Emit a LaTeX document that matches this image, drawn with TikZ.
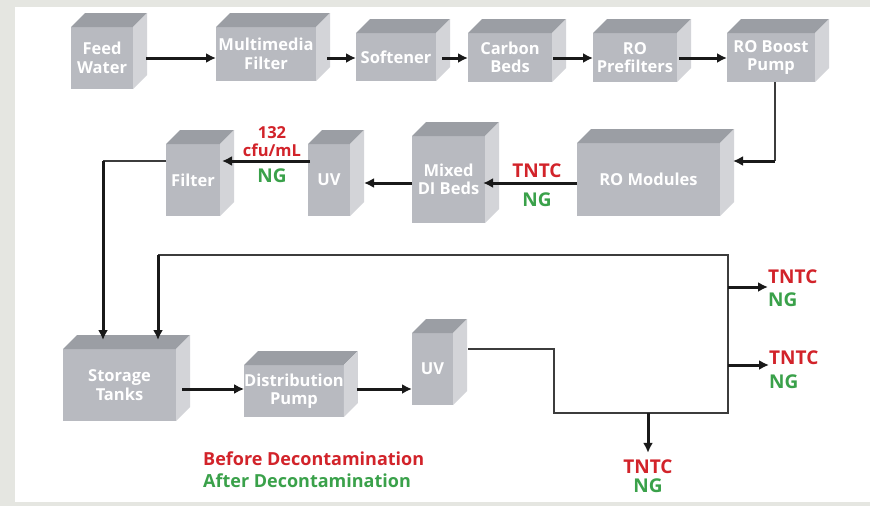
\documentclass[tikz,border=0pt]{standalone}
\usepackage{fontspec}
\setmainfont{Open Sans}
\usepackage{tikz}
\usetikzlibrary{arrows.meta}
\tikzset{>={Latex[width=10pt,length=10pt]}}
\definecolor{frontgray}{HTML}{B8BAC0}
\definecolor{topgray}{HTML}{9B9EA4}
\definecolor{sidegray}{HTML}{D3D4D8}
\definecolor{framegray}{HTML}{E5E6E1}
\definecolor{tntcred}{HTML}{D2232A}
\definecolor{nggreen}{HTML}{3AA14A}
\definecolor{linegray}{HTML}{3C3C3C}
\newcommand{\boxfont}{\fontsize{16.5}{18.5}\selectfont\bfseries}
\newcommand{\labelfont}{\fontsize{19}{20}\selectfont\bfseries}
\newcommand{\legendfont}{\fontsize{18}{20}\selectfont\bfseries}
\newcommand{\cfufont}{\fontsize{16.5}{18}\selectfont\bfseries}

\begin{document}
\begin{tikzpicture}[x=1pt, y=-1pt, box/.style 2 args={fill=frontgray, minimum width=#1, minimum height=#2, inner sep=0pt, outer sep=0pt, text=white, font=\boxfont, align=center}, topface/.style={fill=topgray}, sideface/.style={fill=sidegray}, pipe/.style={draw=linegray, line width=1.3pt}, flow/.style={->, draw=black!90, line width=3pt}, before/.style={text=tntcred, font=\labelfont, inner sep=0pt}, after/.style={text=nggreen, font=\labelfont, inner sep=0pt}]

    %Frame
    \useasboundingbox (0,0) rectangle (870,506);
    \fill[framegray] (0,0) rectangle (870,506);
    \fill[white] (15,7) rectangle (870,502);

    %Nodes
    \node[box={62pt}{62pt}](feed_water) at (102,58){Feed\\Water};
    \node[box={100pt}{54pt}](multimedia_filter) at (266,54){Multimedia\\Filter};
    \node[box={80pt}{48pt}](softener) at (396,57){Softener};
    \node[box={84pt}{49pt}](carbon_beds) at (510,57.5){Carbon\\Beds};
    \node[box={84pt}{49pt}](ro_prefilters) at (635,57.5){RO\\Prefilters};
    \node[box={88pt}{49pt}](ro_boost_pump) at (771,57.5){RO Boost\\Pump};
    \node[box={143pt}{73pt}](ro_modules) at (648.5,179.5){RO Modules};
    \node[box={73pt}{87pt}](mixed_di_beds) at (448.5,179.5){Mixed\\DI Beds};
    \node[box={42pt}{72pt}](uv_one) at (329,180){UV};
    \node[box={54pt}{72pt}](filter) at (193,180){Filter};
    \node[box={113pt}{72pt}](storage_tanks) at (119.5,385){Storage\\Tanks};
    \node[box={98pt}{52pt}](distribution_pump) at (294,391){Distribution\\Pump};
    \node[box={41pt}{72pt}](uv_two) at (432.5,369){UV};

    %Faces
    \foreach \n in {feed_water, multimedia_filter, softener, carbon_beds, ro_prefilters, ro_boost_pump, ro_modules, mixed_di_beds, uv_one, filter, storage_tanks, distribution_pump, uv_two}{
        \fill[topface] (\n.north west) -- ++(14,-14) -- ([shift={(14,-14)}]\n.north east) -- (\n.north east) -- cycle;
        \fill[sideface] (\n.north east) -- ++(14,-14) -- ([shift={(14,-14)}]\n.south east) -- (\n.south east) -- cycle;
    }

    %Labels
    \node[before, font=\cfufont, align=center](cfu_count) at (272,142){132\\cfu/mL};
    \node[after](ng_uv) at (272,176){NG};
    \node[before](tntc_ro) at (537,171){TNTC};
    \node[after](ng_ro) at (537,200){NG};
    \node[before, anchor=west](tntc_tap_one) at (768,277){TNTC};
    \node[after, anchor=west](ng_tap_one) at (768,300){NG};
    \node[before, anchor=west](tntc_tap_two) at (769,358){TNTC};
    \node[after, anchor=west](ng_tap_two) at (769,382){NG};
    \node[before](tntc_tap_three) at (648,467){TNTC};
    \node[after](ng_tap_three) at (648,486){NG};
    \node[before, font=\legendfont, anchor=west](legend_before) at (203,459){Before Decontamination};
    \node[after, font=\legendfont, anchor=west](legend_after) at (203,481){After Decontamination};

    %Turns
    \coordinate (boost_turn) at (775,161);
    \coordinate (filter_turn) at (103,161);
    \coordinate (uv_exit) at ([xshift=15pt,yshift=20pt]uv_two.east);
    \coordinate (loop_down) at (554,413);
    \coordinate (loop_corner) at (728,413);
    \coordinate (loop_top) at (728,255);
    \coordinate (return_top) at (158,255);
    \coordinate (tap_one) at (728,287);
    \coordinate (tap_two) at (728,365);
    \coordinate (tap_three) at (648,413);

    %Lines
    \draw[flow] ([xshift=13pt]feed_water.east) -- ([yshift=-4pt]multimedia_filter.west);
    \draw[flow] ([xshift=11pt,yshift=-4pt]multimedia_filter.east) -- ([yshift=-1pt]softener.west);
    \draw[flow] ([xshift=6pt,yshift=-1pt]softener.east) -- ([yshift=-0.5pt]carbon_beds.west);
    \draw[flow] ([xshift=1pt,yshift=-0.5pt]carbon_beds.east) -- ([yshift=-0.5pt]ro_prefilters.west);
    \draw[flow] ([xshift=2pt,yshift=-0.5pt]ro_prefilters.east) -- ([yshift=-0.5pt]ro_boost_pump.west);
    \draw[pipe] ([xshift=4pt]ro_boost_pump.south) -- (boost_turn);
    \draw[flow] (boost_turn) -- ([xshift=13pt,yshift=18.5pt]ro_modules.east);
    \draw[flow] ([yshift=-3.5pt]ro_modules.west) -- ([xshift=-2pt,yshift=-3.5pt]mixed_di_beds.east);
    \draw[flow] ([yshift=-3.5pt]mixed_di_beds.west) -- ([xshift=14pt,yshift=-3pt]uv_one.east);
    \draw[flow] ([xshift=2pt,yshift=19pt]uv_one.west) -- ([xshift=2pt,yshift=19pt]filter.east);
    \draw[pipe] ([yshift=19pt]filter.west) -- (filter_turn);
    \draw[flow] (filter_turn) -- ([xshift=-16.5pt,yshift=9pt]storage_tanks.north);
    \draw[flow] ([xshift=6pt,yshift=-4pt]storage_tanks.east) -- ([yshift=2pt]distribution_pump.west);
    \draw[flow] ([xshift=13pt,yshift=2pt]distribution_pump.east) -- ([yshift=-20pt]uv_two.west);
    \draw[pipe] (uv_exit) -| (loop_down) -- (loop_corner) -- (loop_top) -- (return_top);
    \draw[flow] (return_top) -- ([xshift=38.5pt,yshift=9pt]storage_tanks.north);
    \draw[flow] (tap_one) -- (tap_one -| tntc_tap_one.west);
    \draw[flow] (tap_two) -- (tap_two -| tntc_tap_two.west);
    \draw[flow] (tap_three) -- ([yshift=7pt]tntc_tap_three.north);
\end{tikzpicture}
\end{document}
